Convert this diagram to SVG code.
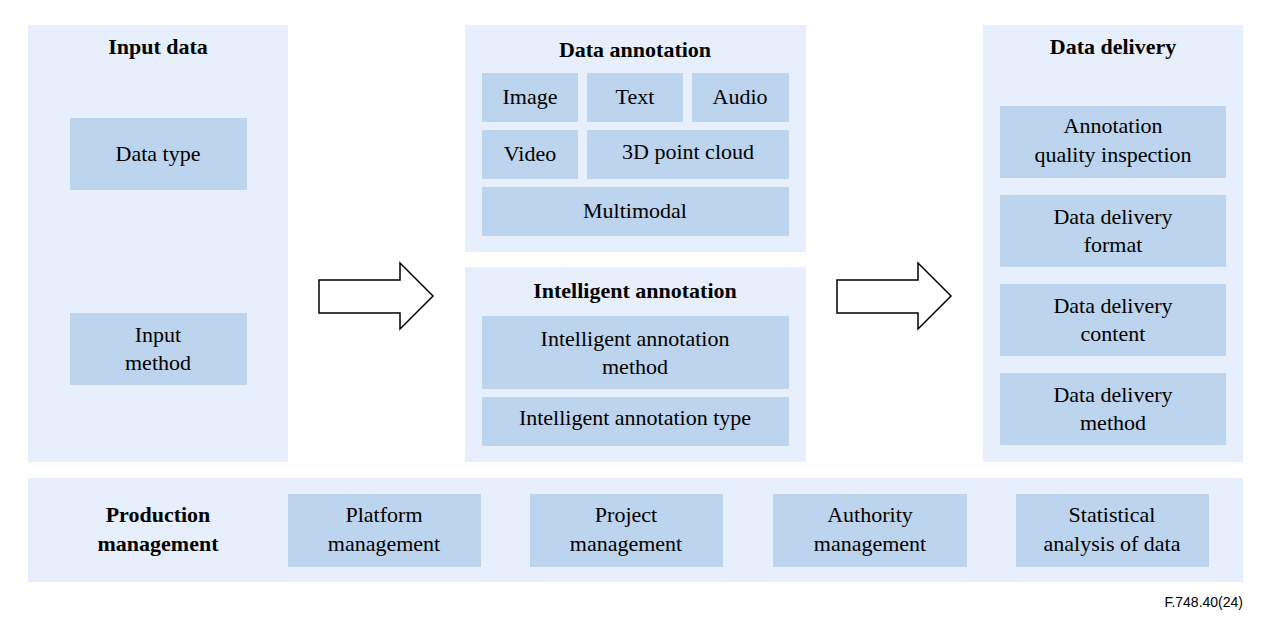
<svg xmlns="http://www.w3.org/2000/svg" width="1269" height="629" viewBox="0 0 1269 629">
<style>
.p{fill:#e8effc}
.b{fill:#bcd4ed}
text{font-family:"Liberation Serif",serif;font-size:22px;fill:#000;text-anchor:middle}
.t{font-weight:bold}
.a{fill:#fff;stroke:#000;stroke-width:1.5}
</style>
<rect width="1269" height="629" fill="#fff"/>
<g id="input">
<rect class="p" x="28" y="25" width="260" height="437"/>
<text class="t" x="158" y="54">Input data</text>
<rect class="b" x="70" y="118" width="177" height="72"/><text x="158" y="161">Data type</text>
<rect class="b" x="70" y="313" width="177" height="72"/><text x="158" y="342">Input</text><text x="158" y="370">method</text>
</g>
<g id="annotation">
<rect class="p" x="465" y="25" width="341" height="227"/>
<text class="t" x="635" y="57">Data annotation</text>
<rect class="b" x="482" y="73" width="96" height="49"/><text x="530" y="104">Image</text>
<rect class="b" x="587" y="73" width="96" height="49"/><text x="635" y="104">Text</text>
<rect class="b" x="692" y="73" width="97" height="49"/><text x="740" y="104">Audio</text>
<rect class="b" x="482" y="130" width="96" height="49"/><text x="530" y="161">Video</text>
<rect class="b" x="587" y="130" width="202" height="49"/><text x="688" y="159">3D point cloud</text>
<rect class="b" x="482" y="187" width="307" height="49"/><text x="635" y="218">Multimodal</text>
</g>
<g id="intelligent">
<rect class="p" x="465" y="267" width="341" height="195"/>
<text class="t" x="635" y="298">Intelligent annotation</text>
<rect class="b" x="482" y="316" width="307" height="73"/><text x="635" y="346">Intelligent annotation</text><text x="635" y="374">method</text>
<rect class="b" x="482" y="397" width="307" height="49"/><text x="635" y="425">Intelligent annotation type</text>
</g>
<g id="delivery">
<rect class="p" x="983" y="25" width="260" height="437"/>
<text class="t" x="1113" y="54">Data delivery</text>
<rect class="b" x="1000" y="106" width="226" height="72"/><text x="1113" y="133">Annotation</text><text x="1113" y="162">quality inspection</text>
<rect class="b" x="1000" y="195" width="226" height="72"/><text x="1113" y="224">Data delivery</text><text x="1113" y="252">format</text>
<rect class="b" x="1000" y="284" width="226" height="72"/><text x="1113" y="313">Data delivery</text><text x="1113" y="341">content</text>
<rect class="b" x="1000" y="373" width="226" height="72"/><text x="1113" y="402">Data delivery</text><text x="1113" y="430">method</text>
</g>
<g id="production">
<rect class="p" x="28" y="478" width="1215" height="104"/>
<text class="t" x="158" y="522">Production</text><text class="t" x="158" y="551">management</text>
<rect class="b" x="288" y="494" width="193" height="73"/><text x="384" y="522">Platform</text><text x="384" y="551">management</text>
<rect class="b" x="530" y="494" width="193" height="73"/><text x="626" y="522">Project</text><text x="626" y="551">management</text>
<rect class="b" x="773" y="494" width="194" height="73"/><text x="870" y="522">Authority</text><text x="870" y="551">management</text>
<rect class="b" x="1016" y="494" width="193" height="73"/><text x="1112" y="522">Statistical</text><text x="1112" y="551">analysis of data</text>
</g>
<g id="connectors">
<polygon class="a" points="319,280 400,280 400,263 433,296 400,329 400,313 319,313"/>
<polygon class="a" points="837,280 918,280 918,263 951,296 918,329 918,313 837,313"/>
</g>
<text x="1243" y="607" style="font-family:'Liberation Sans',sans-serif;font-size:14px;text-anchor:end">F.748.40(24)</text>
</svg>
